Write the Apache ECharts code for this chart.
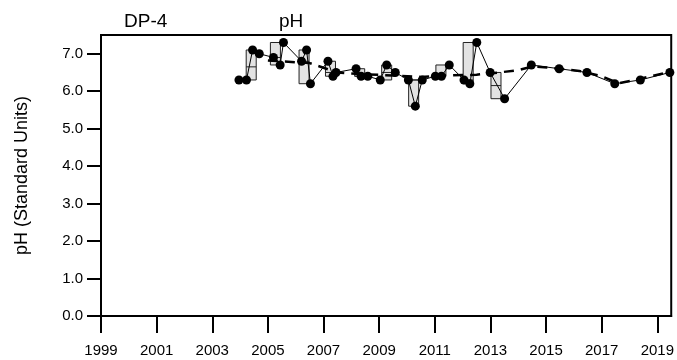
<!DOCTYPE html>
<html>
<head>
<meta charset="utf-8">
<script src="https://cdn.jsdelivr.net/npm/echarts@6/dist/echarts.min.js"></script>
<style>
html,body{margin:0;padding:0;background:#fff;}
#chart{width:677px;height:360px;}
</style>
</head>
<body>
<div id="chart"></div>
<script>
// Sample dates (decimal years) and pH values
var sampleYears = [2003.96, 2004.23, 2004.45, 2004.69, 2005.20, 2005.44, 2005.56, 2006.21, 2006.39, 2006.53,
  2007.16, 2007.34, 2007.45, 2008.17, 2008.35, 2008.59, 2009.04, 2009.27, 2009.58, 2010.05,
  2010.30, 2010.55, 2011.02, 2011.24, 2011.52, 2012.05, 2012.26, 2012.51, 2012.99, 2013.51,
  2014.47, 2015.47, 2016.47, 2017.47, 2018.39, 2019.45];
var sampleValues = [6.3, 6.3, 7.1, 7.0, 6.9, 6.7, 7.3, 6.8, 7.1, 6.2,
  6.8, 6.4, 6.5, 6.6, 6.4, 6.4, 6.3, 6.7, 6.5, 6.3,
  5.6, 6.3, 6.4, 6.4, 6.7, 6.3, 6.2, 7.3, 6.5, 5.8,
  6.7, 6.6, 6.5, 6.2, 6.3, 6.5];

// Annual boxes (center year, min, max, median)
var boxCenters = [2004.4, 2005.27, 2006.3, 2007.25, 2008.3, 2009.27, 2010.24, 2011.22, 2012.2, 2013.2];
var boxLow =     [6.3, 6.7, 6.2, 6.4, 6.4, 6.3, 5.6, 6.4, 6.2, 5.8];
var boxHigh =    [7.1, 7.3, 7.1, 6.8, 6.6, 6.7, 6.3, 6.7, 7.3, 6.5];
var boxMedian =  [6.65, 6.9, 6.8, 6.5, 6.4, 6.5, 6.3, 6.4, 6.3, 6.15];

// Dashed trend line
var trendYears =  [2005.0, 2006.5, 2007.5, 2008.5, 2009.5, 2010.5, 2011.5, 2012.5, 2013.3, 2014.0, 2014.5, 2015.1, 2016.2, 2017.0, 2017.6, 2018.3, 2019.5];
var trendValues = [6.82, 6.75, 6.5, 6.45, 6.42, 6.38, 6.42, 6.44, 6.5, 6.56, 6.66, 6.63, 6.54, 6.4, 6.21, 6.32, 6.52];

// Tick labels
var xTicks = [1999, 2001, 2003, 2005, 2007, 2009, 2011, 2013, 2015, 2017, 2019];
var yTicks = [0, 1, 2, 3, 4, 5, 6, 7];

var FONT = 'Liberation Sans, Arial, Helvetica, sans-serif';
var chart = echarts.init(document.getElementById('chart'), null, {renderer: 'canvas'});

var boxData = boxCenters.map(function (c, i) { return [c, boxLow[i], boxHigh[i], boxMedian[i]]; });
var pointData = sampleYears.map(function (y, i) { return [y, sampleValues[i]]; });
var trendData = trendYears.map(function (y, i) { return [y, trendValues[i]]; });
var BOX_HALF = 0.18;

chart.setOption({
  animation: false,
  backgroundColor: '#fff',
  title: [
    {text: 'DP-4', left: 119, top: 7, textStyle: {fontFamily: FONT, fontSize: 19, fontWeight: 'normal', color: '#000'}},
    {text: 'pH', left: 274, top: 7, textStyle: {fontFamily: FONT, fontSize: 19, fontWeight: 'normal', color: '#000'}}
  ],
  grid: {left: 101, right: 2, top: 35, bottom: 44, show: true, borderColor: '#000', borderWidth: 2, backgroundColor: 'transparent'},
  xAxis: {
    type: 'value', min: 1999, max: 2019.5,
    axisLine: {show: true, onZero: false, lineStyle: {color: '#000', width: 2}},
    axisTick: {show: true, length: 17, customValues: xTicks, lineStyle: {color: '#000', width: 2}},
    axisLabel: {customValues: xTicks, margin: 27, fontFamily: FONT, fontSize: 15, color: '#000', formatter: function (v) { return String(Math.round(v)); }},
    splitLine: {show: false}
  },
  yAxis: {
    type: 'value', min: 0, max: 7.5,
    name: 'pH (Standard Units)', nameLocation: 'middle', nameGap: 70,
    nameTextStyle: {fontFamily: FONT, fontSize: 18, color: '#000'},
    axisLine: {show: true, onZero: false, lineStyle: {color: '#000', width: 2}},
    axisTick: {show: true, length: 14, customValues: yTicks, lineStyle: {color: '#000', width: 2}},
    axisLabel: {customValues: yTicks, margin: 18, fontFamily: FONT, fontSize: 15, color: '#000', formatter: function (v) { return v.toFixed(1); }},
    splitLine: {show: false}
  },
  series: [
    {
      type: 'custom', z: 1,
      data: boxData,
      renderItem: function (params, api) {
        var c = api.value(0), lo = api.value(1), hi = api.value(2), med = api.value(3);
        var p1 = api.coord([c - BOX_HALF, hi]);
        var p2 = api.coord([c + BOX_HALF, lo]);
        var pm1 = api.coord([c - BOX_HALF, med]);
        var pm2 = api.coord([c + BOX_HALF, med]);
        return {
          type: 'group',
          children: [
            {type: 'rect', shape: {x: p1[0], y: p1[1], width: p2[0] - p1[0], height: p2[1] - p1[1]},
             style: {fill: '#e3e3e3', stroke: '#222', lineWidth: 1}},
            {type: 'line', shape: {x1: pm1[0], y1: pm1[1], x2: pm2[0], y2: pm2[1]},
             style: {stroke: '#222', lineWidth: 1}}
          ]
        };
      }
    },
    {
      type: 'line', z: 2, data: trendData, showSymbol: false, symbol: 'none',
      lineStyle: {color: '#000', width: 2.5, type: [10, 7]}
    },
    {
      type: 'line', z: 3, data: pointData, symbol: 'circle', symbolSize: 9,
      itemStyle: {color: '#000'},
      lineStyle: {color: '#000', width: 1}
    }
  ]
});
</script>
</body>
</html>
